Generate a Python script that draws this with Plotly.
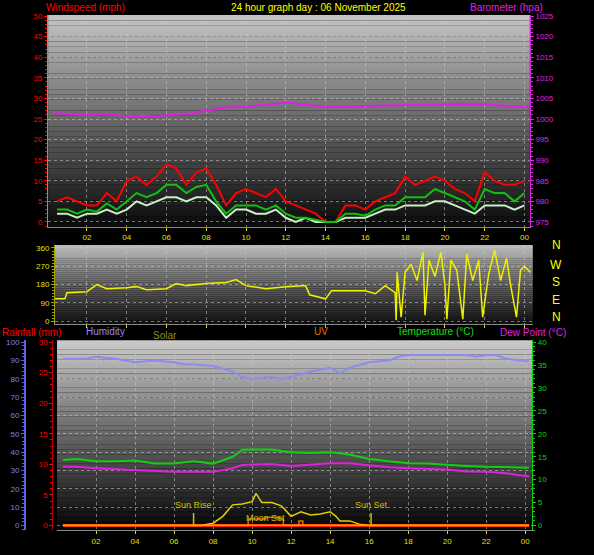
import plotly.graph_objects as go

# ---- wind / barometer panel ----
wind_t = [0.5, 1, 1.5, 2, 2.5, 3, 3.5, 4, 4.5, 5, 5.5, 6, 6.5, 7, 7.5, 8, 8.5, 9, 9.5, 10,
          10.5, 11, 11.5, 12, 12.5, 13, 13.5, 14, 14.5, 15, 15.5, 16, 16.5, 17, 17.5, 18,
          18.5, 19, 19.5, 20, 20.5, 21, 21.5, 22, 22.5, 23, 23.5, 24]
gust = [5, 6, 5, 4, 4, 7, 5, 10, 11, 9, 11, 14, 13, 9, 12, 13, 9, 4, 7, 8,
        7, 6, 8, 5, 4, 3, 2, 0, 0, 4, 4, 3, 5, 6, 7, 11,
        9, 10, 11, 10, 8, 7, 5, 12, 10, 9, 9, 10]
avg_wind = [3, 3, 2, 3, 2.5, 4.5, 3, 5, 7, 6, 7, 9, 9, 7, 8.5, 9, 5, 2, 4, 4,
            4, 3, 4, 2, 1, 1, 0.5, 0, 0, 2, 2, 1.5, 3, 4, 4, 6,
            6, 6, 8, 7, 6, 5, 3, 8, 7, 7, 5, 7]
speed = [2, 2, 1, 2, 2, 3, 2, 3, 5, 4, 5, 6, 6, 5, 6, 6, 4, 1, 3, 3,
         2, 2, 3, 1, 0, 1, 0, 0, 0, 1, 1, 1, 2, 3, 3, 4,
         4, 4, 5, 5, 4, 3, 2, 4, 4, 4, 3, 4]
baro_t = [0.3, 1, 2, 3, 4, 5, 5.5, 6, 7, 8, 9, 10, 11, 12, 13, 14, 15, 16, 17, 18, 19, 20, 21, 22, 23, 24.2]
baro = [1001.5, 1001.2, 1001.0, 1001.2, 1000.7, 1000.8, 1000.5, 1001.0, 1001.3, 1002.1, 1002.8, 1003.0,
        1003.5, 1004.0, 1003.5, 1003.0, 1003.0, 1003.2, 1003.3, 1003.4, 1003.4, 1003.6, 1003.7, 1003.6,
        1003.2, 1003.0]

# ---- wind direction panel ----
dir_t = [0.4, 0.9, 1.0, 2, 2.5, 3, 4, 4.5, 5, 6, 6.5, 7, 8, 9, 9.5, 10, 11, 12, 13, 13.2, 14, 14.3,
         15, 16, 16.5, 17, 17.5, 17.55, 17.6, 17.8, 18, 18.3, 18.6, 18.9, 19.0, 19.2, 19.5, 19.8, 20, 20.1,
         20.3, 20.6, 20.9, 21.1, 21.4, 21.7, 21.9, 22.2, 22.5, 22.8, 23.1, 23.3, 23.6, 23.8, 24, 24.3]
wind_dir = [110, 110, 140, 145, 180, 160, 165, 170, 155, 160, 185, 175, 185, 190, 205, 175, 160, 170, 175,
            130, 110, 150, 150, 150, 135, 175, 140, 5, 240, 20, 240, 280, 200, 340, 30, 300, 220, 340, 180,
            10, 300, 250, 10, 330, 200, 300, 20, 230, 350, 200, 310, 180, 20, 250, 270, 240]

# ---- temperature / humidity panel ----
hum_t = [0.3, 1, 1.5, 2, 3, 4, 5, 6, 6.5, 7, 8, 9, 9.5, 10, 11, 11.5, 12, 13, 14, 14.2, 14.5, 15, 16,
         17, 17.5, 18, 20, 21, 21.5, 22, 22.5, 23, 24.2]
humidity = [91, 91, 91, 92, 91, 89, 90, 89, 88, 88, 87, 84, 81, 80, 81, 80, 81, 84, 86, 85, 83, 86, 89,
            90, 92, 93, 93, 93, 92, 93, 93, 91, 89.5]
temp_t = [0.3, 1, 2, 3, 4, 5, 6, 7, 8, 9, 9.5, 10, 11, 12, 13, 14, 15, 16, 17, 18, 19, 20, 21, 22, 23, 24.2]
temperature = [14.3, 14.5, 14.0, 14.0, 14.2, 13.5, 13.5, 14.0, 13.5, 15.0, 16.5, 16.6, 16.6, 16.0, 15.8,
               16.0, 15.5, 14.5, 14.0, 13.6, 13.5, 13.2, 13.0, 12.8, 12.7, 12.6]
dew_point = [12.8, 12.8, 12.5, 12.3, 12.0, 11.8, 11.7, 11.7, 11.7, 12.5, 13.2, 13.3, 13.4, 13.0, 13.3,
             13.6, 13.6, 13.2, 12.7, 12.5, 12.4, 12.2, 11.8, 11.7, 11.4, 10.7]
solar_t = [0.3, 7.4, 8, 8.5, 9, 9.5, 10, 10.2, 10.5, 11, 11.5, 12, 12.5, 13, 13.5, 14, 14.3, 14.5, 15,
           15.5, 16, 24.2]
solar = [0, 0, 0.5, 2, 4.5, 4.7, 5.2, 7, 5, 5, 4.3, 2, 3, 2.3, 2.5, 3, 2.0, 1.0, 1.0, 0.3, 0, 0]
uv_t = [0.3, 9.8, 10.7, 11.4, 11.6, 12.4, 12.6, 24.2]
uv = [0, 1.4, 1.8, 1.4, 0, 1.0, 0, 0]
rain_t = [0.3, 24.2]
rain = [0, 0]

hour_ticks = list(range(2, 25, 2))
hour_labels = ["%02d" % (h % 24) for h in hour_ticks]

FONT = "Liberation Sans"
GRID = "rgba(200,200,200,0.55)"

fig = go.Figure()

# gradient backgrounds
def gradient(xref, yref, top, bottom, n=40):
    for i in range(n):
        f = i / n
        g = int(bottom + (top - bottom) * f)
        fig.add_shape(type="rect", xref=xref + " domain", yref=yref + " domain",
                      x0=0, x1=1, y0=f, y1=f + 1 / n, layer="below",
                      line_width=0, fillcolor="rgb(%d,%d,%d)" % (g, g, g))

gradient("x", "y", 200, 12)
gradient("x2", "y3", 190, 18)
gradient("x3", "y4", 205, 5)

fig.add_trace(go.Scatter(x=wind_t, y=gust, mode="lines", line=dict(color="#ff0000", width=2),
                         xaxis="x", yaxis="y"))
fig.add_trace(go.Scatter(x=wind_t, y=speed, mode="lines", line=dict(color="#c8f0c8", width=2),
                         xaxis="x", yaxis="y"))
fig.add_trace(go.Scatter(x=wind_t, y=avg_wind, mode="lines", line=dict(color="#10c010", width=2),
                         xaxis="x", yaxis="y"))
fig.add_trace(go.Scatter(x=baro_t, y=baro, mode="lines", line=dict(color="#e020e0", width=2),
                         xaxis="x", yaxis="y2"))

fig.add_trace(go.Scatter(x=dir_t, y=wind_dir, mode="lines", line=dict(color="#f0f000", width=1.5),
                         xaxis="x2", yaxis="y3"))

fig.add_trace(go.Scatter(x=hum_t, y=humidity, mode="lines", line=dict(color="#8c8cf0", width=2),
                         xaxis="x3", yaxis="y4"))
fig.add_trace(go.Scatter(x=temp_t, y=temperature, mode="lines", line=dict(color="#10d010", width=2),
                         xaxis="x3", yaxis="y6"))
fig.add_trace(go.Scatter(x=temp_t, y=dew_point, mode="lines", line=dict(color="#e020e0", width=2),
                         xaxis="x3", yaxis="y6"))
fig.add_trace(go.Scatter(x=solar_t, y=solar, mode="lines", line=dict(color="#e0d000", width=1.5),
                         xaxis="x3", yaxis="y6"))
fig.add_trace(go.Scatter(x=uv_t, y=uv, mode="lines", line=dict(color="#e07000", width=1.5, shape="hv"),
                         xaxis="x3", yaxis="y6"))
fig.add_trace(go.Scatter(x=rain_t, y=rain, mode="lines", line=dict(color="#ff0000", width=3),
                         xaxis="x3", yaxis="y5"))
fig.add_trace(go.Scatter(x=rain_t, y=[0.05, 0.05], mode="lines", line=dict(color="#ffa000", width=1.5),
                         xaxis="x3", yaxis="y6"))

# sun rise / set markers
for hx, lab in [(7.0, "Sun Rise"), (16.1, "Sun Set")]:
    fig.add_shape(type="line", xref="x3", yref="y6", x0=hx, x1=hx, y0=0, y1=2.7,
                  line=dict(color="#d0c000", width=1.5))
    fig.add_annotation(xref="x3", yref="y6", x=hx, y=3.0, text=lab, showarrow=False,
                       font=dict(color="#d0c000", size=9, family=FONT), yanchor="bottom")
fig.add_annotation(xref="x3", yref="y6", x=10.7, y=0.1, text="Moon Set", showarrow=False,
                   font=dict(color="#d0c000", size=9, family=FONT), yanchor="bottom")

axis_common = dict(showgrid=True, gridcolor=GRID, griddash="dot", zeroline=False,
                   ticks="outside", ticklen=3, showline=True)

def xax(domain, rng, labels=True):
    return dict(axis_common, domain=domain, range=rng, tickvals=hour_ticks, ticktext=hour_labels,
                showticklabels=labels, tickfont=dict(color="#e0e000", size=8, family=FONT),
                linecolor="#888", tickcolor="#e0e000")

fig.update_layout(
    width=594, height=555, margin=dict(l=0, r=0, t=0, b=0),
    paper_bgcolor="black", plot_bgcolor="black", showlegend=False,
    xaxis=xax([0.081, 0.892], [0.05, 24.27]),
    xaxis2=dict(xax([0.0926, 0.897], [0.4, 24.42], labels=False), anchor="y3"),
    xaxis3=dict(xax([0.096, 0.896], [0.0, 24.36]), anchor="y4"),
    yaxis=dict(axis_common, domain=[0.593, 0.978], range=[-1.2, 50.24], dtick=5,
               tickfont=dict(color="#ff0000", size=8, family=FONT), linecolor="#ff6060",
               tickcolor="#ff0000", minor=dict(dtick=1, ticks="outside", ticklen=2, tickcolor="#ff0000")),
    yaxis2=dict(axis_common, overlaying="y", side="right", range=[973.8, 1025.24], dtick=5,
                showgrid=False, tickfont=dict(color="#e020e0", size=8, family=FONT),
                linecolor="#e020e0", tickcolor="#e020e0",
                minor=dict(dtick=1, ticks="outside", ticklen=2, tickcolor="#e020e0")),
    yaxis3=dict(axis_common, domain=[0.416, 0.560], range=[-14.6, 374.6], tickvals=[0, 90, 180, 270, 360],
                anchor="x2", tickfont=dict(color="#e0e000", size=8, family=FONT), linecolor="#a0a000",
                tickcolor="#a0a000", minor=dict(dtick=15, ticks="outside", ticklen=2, tickcolor="#a0a000")),
    yaxis4=dict(axis_common, domain=[0.041, 0.387], range=[-2.7, 101.1], dtick=10, anchor="free",
                position=0.042, showgrid=True, tickfont=dict(color="#8080e0", size=8, family=FONT),
                linecolor="#6060e0", linewidth=2, tickcolor="#6060e0",
                minor=dict(dtick=2, ticks="outside", ticklen=2, tickcolor="#6060e0")),
    yaxis5=dict(axis_common, overlaying="y4", anchor="free", position=0.088, range=[-0.81, 30.32],
                dtick=5, showgrid=False, tickfont=dict(color="#ff0000", size=8, family=FONT),
                linecolor="#c00000", tickcolor="#ff0000",
                minor=dict(dtick=1, ticks="outside", ticklen=2, tickcolor="#ff0000")),
    yaxis6=dict(axis_common, overlaying="y4", anchor="x3", side="right", range=[-1.08, 40.43], dtick=5,
                showgrid=False, tickfont=dict(color="#10d010", size=8, family=FONT), linecolor="#10d010",
                tickcolor="#10d010", minor=dict(dtick=1, ticks="outside", ticklen=2, tickcolor="#10d010")),
)

def label(x, y, text, color, anchor="left", size=10):
    fig.add_annotation(xref="paper", yref="paper", x=x / 594, y=1 - y / 555, text=text,
                       showarrow=False, xanchor=anchor, yanchor="middle",
                       font=dict(color=color, size=size, family=FONT))

label(44, 5, "Windspeed (mph)", "#ff0000")
label(318, 5, "24 hour graph day : 06 November 2025", "#ffff00", anchor="center")
label(545, 5, "Barometer (hpa)", "#e020e0", anchor="right")
for yy, d in zip([244, 264, 282, 300, 317], ["N", "W", "S", "E", "N"]):
    label(556, yy, d, "#ffff00", anchor="center", size=12)
label(0, 332, "Rainfall (mm)", "#ff0000")
label(84, 331, "Humidity", "#8c8cf0")
label(151, 336, "Solar", "#908a20")
label(312, 331, "UV", "#e07000")
label(395, 331, "Temperature (°C)", "#10e010")
label(498, 332, "Dew Point (°C)", "#e020e0")

fig.write_html("out.html", config={"displayModeBar": False},
               post_script="document.body.style.margin='0';document.body.style.overflow='hidden';")
